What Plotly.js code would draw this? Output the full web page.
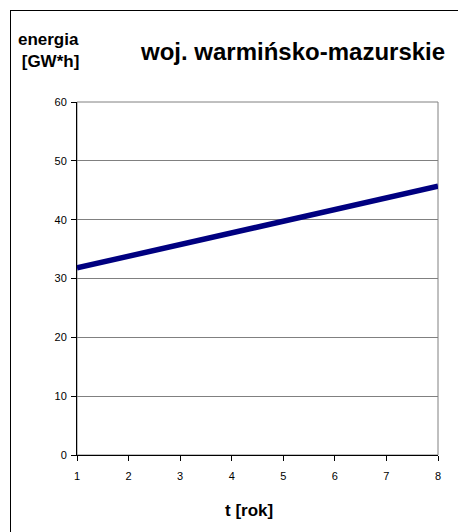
<!DOCTYPE html>
<html>
<head>
<meta charset="utf-8">
<script src="https://cdn.plot.ly/plotly-3.0.1.min.js"></script>
<style>
html,body{margin:0;padding:0;background:#fff;}
#wrap{position:relative;width:458px;height:532px;}
#chart{width:458px;height:532px;}
#frame{position:absolute;left:10px;top:10px;width:460px;height:540px;border-left:1px solid #000;border-top:1px solid #000;pointer-events:none;}
</style>
</head>
<body>
<div id="wrap"><div id="chart"></div><div id="frame"></div></div>
<script>
const years = [1, 2, 3, 4, 5, 6, 7, 8];
const energy = [31.8, 33.8, 35.8, 37.8, 39.6, 41.6, 43.6, 45.7];
const yTicks = [0, 10, 20, 30, 40, 50, 60];
const chartTitle = 'woj. warmińsko-mazurskie';
const yTitle = 'energia<br> [GW*h]';
const xTitle = 't [rok]';

const font = 'Liberation Sans, Arial, sans-serif';

Plotly.newPlot('chart', [{
  x: years, y: energy, type: 'scatter', mode: 'lines',
  line: {color: '#000080', width: 5.5}, hoverinfo: 'skip'
}], {
  width: 458, height: 532,
  margin: {l: 77, r: 20, t: 102, b: 77, pad: 0},
  paper_bgcolor: '#fff', plot_bgcolor: '#fff',
  showlegend: false,
  font: {family: font, color: '#000'},
  xaxis: {
    range: [1, 8], tickvals: years, ticks: 'outside', ticklen: 5, tickcolor: '#000',
    showline: true, linecolor: '#000', linewidth: 1, showgrid: false, zeroline: false,
    tickfont: {size: 11, family: font, color: '#000'}, ticklabelstandoff: 6
  },
  yaxis: {
    range: [0, 60], tickvals: yTicks, ticks: 'outside', ticklen: 5, tickcolor: '#000',
    showline: true, linecolor: '#000', linewidth: 1, gridcolor: '#808080', gridwidth: 1,
    zeroline: false, tickfont: {size: 11, family: font, color: '#000'}, ticklabelstandoff: 2
  },
  shapes: [{type: 'rect', xref: 'paper', yref: 'paper', x0: 0, x1: 1, y0: 0, y1: 1,
            line: {color: '#808080', width: 1}, layer: 'below'}],
  annotations: [
    {text: '<b>' + chartTitle + '</b>', xref: 'paper', yref: 'paper',
     x: (292 - 77) / 361, y: 1 + (102 - 52) / 353, xanchor: 'center', yanchor: 'middle',
     showarrow: false, font: {size: 24, family: font, color: '#000'}},
    {text: '<b>' + yTitle + '</b>', xref: 'paper', yref: 'paper',
     x: (48 - 77) / 361, y: 1 + (102 - 50) / 353, xanchor: 'center', yanchor: 'middle',
     showarrow: false, align: 'center', font: {size: 17, family: font, color: '#000'}},
    {text: '<b>' + xTitle + '</b>', xref: 'paper', yref: 'paper',
     x: (249 - 77) / 361, y: -(510 - 455) / 353, xanchor: 'center', yanchor: 'middle',
     showarrow: false, font: {size: 17, family: font, color: '#000'}}
  ]
}, {displayModeBar: false, staticPlot: true});
</script>
</body>
</html>
